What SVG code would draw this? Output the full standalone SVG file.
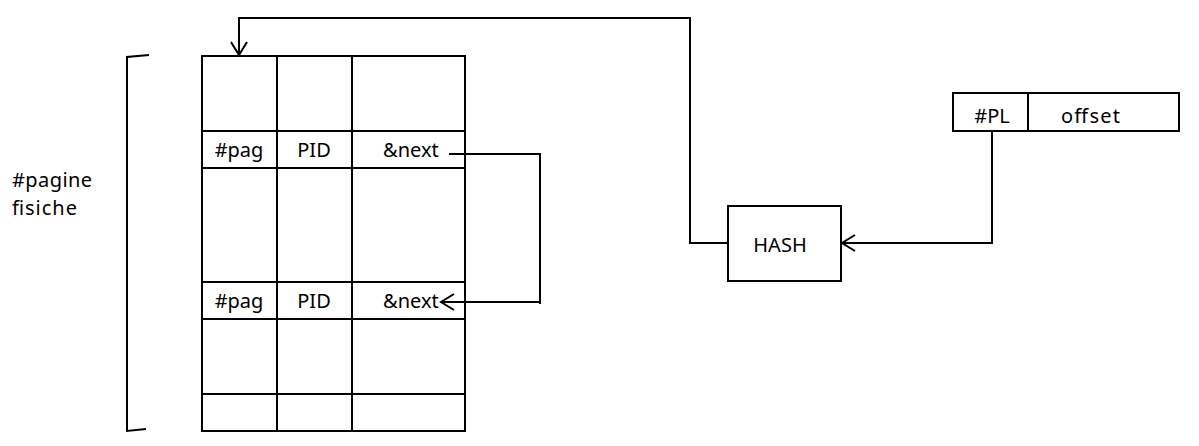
<svg xmlns="http://www.w3.org/2000/svg" width="1199" height="446" viewBox="0 0 1199 446">
<defs>
<marker id="open" markerUnits="userSpaceOnUse" markerWidth="20" markerHeight="20" viewBox="-15 -10 20 20" refX="0" refY="0" orient="auto">
<path d="M-13,-8 L0,0 L-13,8" fill="none" stroke="#000" stroke-width="2"/>
</marker>
</defs>
<style>
.ln{fill:none;stroke:#000;stroke-width:2}
.bx{fill:#fff;stroke:#000;stroke-width:2}
text{font-family:"Noto Sans","Open Sans","DejaVu Sans",sans-serif;font-size:20px;fill:#000}
.c{text-anchor:middle}
</style>
<rect width="1199" height="446" fill="#fff"/>
<g id="bracket">
<path class="ln" d="M149,55 L127,57 L127,431 L146,429"/>
</g>
<g id="label">
<text x="12" y="187" textLength="80">#pagine</text>
<text x="12" y="215" textLength="65">fisiche</text>
</g>
<g id="table">
<rect class="bx" x="202" y="56" width="263" height="375"/>
<path class="ln" d="M277,56 V431 M352,56 V431 M202,131 H465 M202,168 H465 M202,282 H465 M202,319 H465 M202,394 H465"/>
<text class="c" x="239" y="157">#pag</text>
<text class="c" x="314" y="157">PID</text>
<text x="383" y="157">&amp;next</text>
<text class="c" x="239" y="308">#pag</text>
<text class="c" x="314" y="308">PID</text>
<text x="383" y="308">&amp;next</text>
</g>
<g id="hash">
<rect class="bx" x="728" y="206" width="113" height="75"/>
<text class="c" x="780" y="252">HASH</text>
</g>
<g id="address">
<rect class="bx" x="953" y="93" width="226" height="38"/>
<path class="ln" d="M1028,93 V131"/>
<text class="c" x="992" y="123">#PL</text>
<text x="1061" y="123" textLength="59">offset</text>
</g>
<g id="connectors">
<path class="ln" d="M728,243 H690 V18 H239 V55" marker-end="url(#open)"/>
<path class="ln" d="M992,131 V243 H842" marker-end="url(#open)"/>
<path class="ln" d="M449,154 H540 V304"/>
<path class="ln" d="M540,302 H441" marker-end="url(#open)"/>
</g>
</svg>
